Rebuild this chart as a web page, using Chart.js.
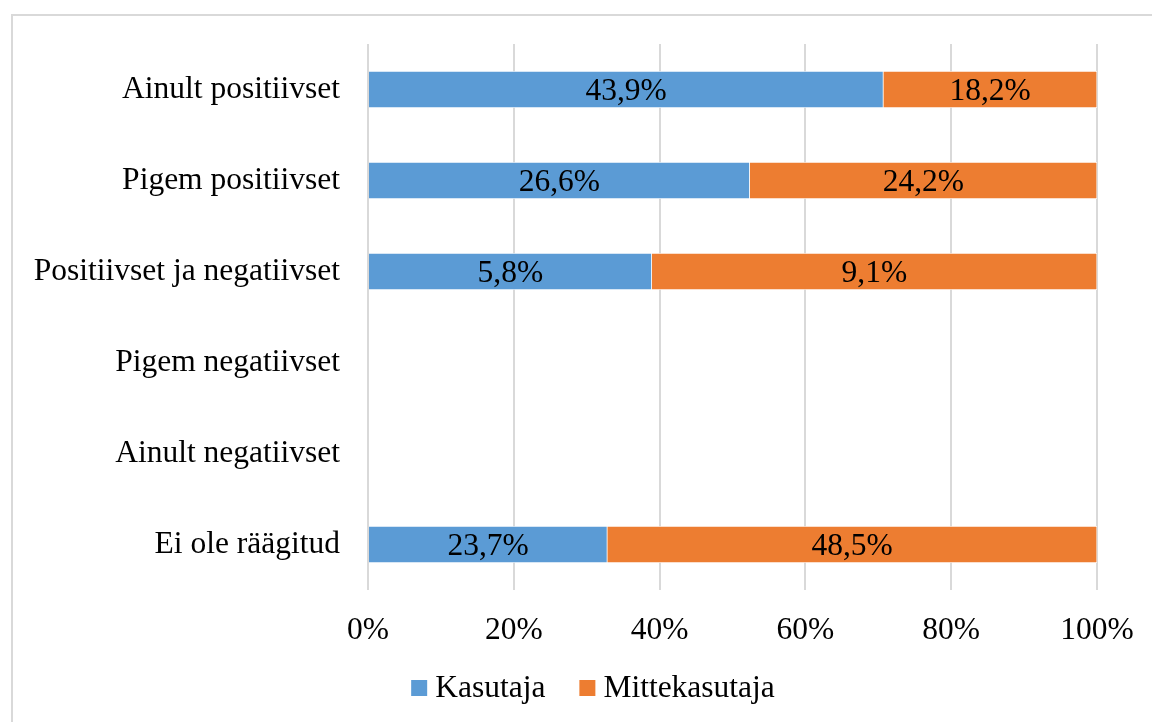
<!DOCTYPE html>
<html>
<head>
<meta charset="utf-8">
<script src="https://cdn.jsdelivr.net/npm/chart.js@4.4.1/dist/chart.umd.min.js"></script>
<style>
  html, body { margin: 0; padding: 0; background: #ffffff; }
  #wrap { position: relative; width: 1152px; height: 722px; }
  canvas { display: block; }
</style>
</head>
<body>
<div id="wrap"><canvas id="chart" width="1152" height="722"></canvas></div>
<script>
// Answer categories (top to bottom)
const categories = [
  'Ainult positiivset',
  'Pigem positiivset',
  'Positiivset ja negatiivset',
  'Pigem negatiivset',
  'Ainult negatiivset',
  'Ei ole räägitud'
];
// Shares within each group, in percent (null = no answers)
const kasutaja = [43.9, 26.6, 5.8, null, null, 23.7];
const mittekasutaja = [18.2, 24.2, 9.1, null, null, 48.5];
const seriesNames = ['Kasutaja', 'Mittekasutaja'];
const seriesColors = ['#5B9BD5', '#ED7D31'];
const xTicks = [0, 20, 40, 60, 80, 100];

// 100% stacked: each row is scaled so the two parts fill the full width
function rowShare(part, other) {
  return part.map((v, i) => {
    if (v == null) return null;
    const total = v + (other[i] || 0);
    return total ? v / total * 100 : null;
  });
}
const raw = [kasutaja, mittekasutaja];
const shares = [rowShare(kasutaja, mittekasutaja), rowShare(mittekasutaja, kasutaja)];

const FONT = "'Liberation Serif', 'Times New Roman', serif";
const FONT_SIZE = 31.5;

// Value labels centred in each bar segment
const valueLabels = {
  id: 'valueLabels',
  afterDatasetsDraw(chart) {
    const ctx = chart.ctx;
    ctx.save();
    ctx.font = FONT_SIZE + 'px ' + FONT;
    ctx.fillStyle = '#000000';
    ctx.textAlign = 'center';
    ctx.textBaseline = 'middle';
    chart.data.datasets.forEach((ds, di) => {
      const meta = chart.getDatasetMeta(di);
      meta.data.forEach((bar, i) => {
        const v = raw[di][i];
        if (v == null) return;
        const x = (bar.x + bar.base) / 2;
        ctx.fillText(v.toFixed(1).replace('.', ',') + '%', x, bar.y + 2);
      });
    });
    ctx.restore();
  }
};

// Outer chart frame and legend row below the axis
const frameAndLegend = {
  id: 'frameAndLegend',
  beforeDraw(chart) {
    const ctx = chart.ctx;
    ctx.save();
    ctx.strokeStyle = '#d9d9d9';
    ctx.lineWidth = 2;
    ctx.strokeRect(12, 15, 1160, 740);
    ctx.restore();
  },
  afterDraw(chart) {
    const ctx = chart.ctx;
    ctx.save();
    ctx.font = FONT_SIZE + 'px ' + FONT;
    ctx.textBaseline = 'middle';
    ctx.textAlign = 'left';
    const box = 16, gap = 8, spacing = 34, cy = 689;
    const items = chart.data.datasets.map(ds => ({
      text: ds.label, color: ds.backgroundColor, w: ctx.measureText(ds.label).width
    }));
    const total = items.reduce((s, it) => s + box + gap + it.w, 0) + spacing * (items.length - 1);
    let x = 593 - total / 2;
    items.forEach(it => {
      ctx.fillStyle = it.color;
      ctx.fillRect(x, cy - box / 2 - 1, box, box);
      ctx.fillStyle = '#000000';
      ctx.fillText(it.text, x + box + gap, cy);
      x += box + gap + it.w + spacing;
    });
    ctx.restore();
  }
};

new Chart(document.getElementById('chart'), {
  type: 'bar',
  data: {
    labels: categories,
    datasets: seriesNames.map((name, i) => ({
      label: name,
      data: shares[i],
      backgroundColor: seriesColors[i],
      borderColor: '#ffffff',
      borderWidth: 0.6,
      barPercentage: 1,
      categoryPercentage: 0.405
    }))
  },
  options: {
    indexAxis: 'y',
    responsive: false,
    animation: false,
    layout: { padding: { top: 44, right: 55, bottom: 0, left: 0 } },
    scales: {
      x: {
        stacked: true,
        min: 0,
        max: 100,
        afterBuildTicks(axis) { axis.ticks = xTicks.map(v => ({ value: v })); },
        afterFit(axis) {
          axis.height = 132;
          axis.paddingLeft = 0;
          axis.paddingRight = 0;
        },
        grid: { color: '#d9d9d9', lineWidth: 2, drawTicks: false },
        border: { display: false },
        ticks: {
          padding: 22,
          color: '#000000',
          font: { family: FONT, size: FONT_SIZE },
          callback: v => v + '%'
        }
      },
      y: {
        stacked: true,
        afterFit(axis) {
          axis.width = 368;
          axis.paddingTop = 0;
          axis.paddingBottom = 0;
        },
        grid: { display: false, drawTicks: false },
        border: { display: false },
        ticks: {
          padding: 28,
          color: '#000000',
          font: { family: FONT, size: FONT_SIZE }
        }
      }
    },
    plugins: {
      legend: { display: false },
      tooltip: { enabled: false }
    }
  },
  plugins: [frameAndLegend, valueLabels]
});
</script>
</body>
</html>
